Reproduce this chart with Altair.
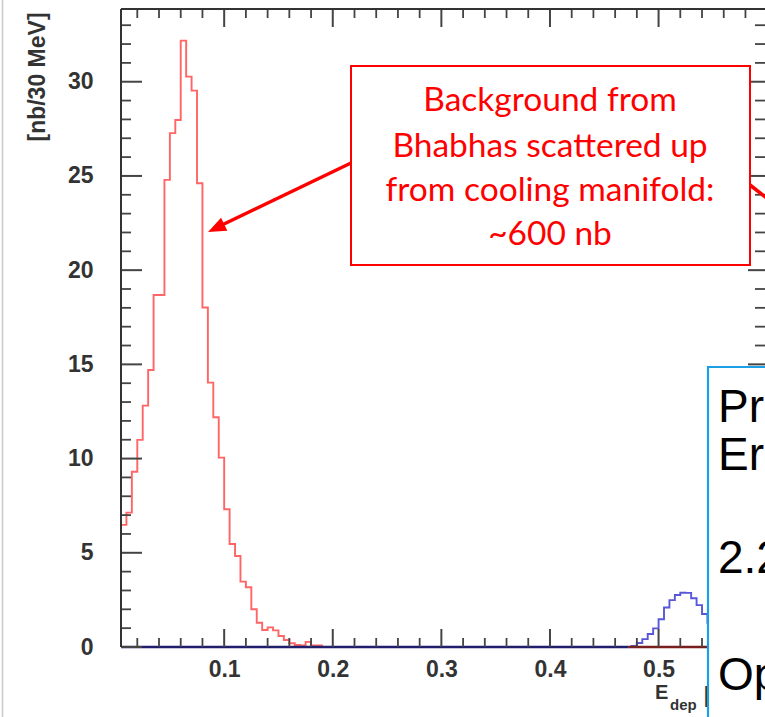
import altair as alt
import pandas as pd

# ---------------- data ----------------
BIN_START = 0.005          # GeV, first bin edge (left frame)
BIN_WIDTH = 0.005          # GeV

red_counts = [6.48, 7.13, 9.30, 10.99, 12.81, 14.70, 18.68, 18.68, 24.79, 27.27,
              27.97, 32.18, 30.27, 29.53, 24.61, 18.02, 14.03, 12.19, 10.05, 7.31,
              5.47, 4.83, 3.47, 3.17, 2.00, 1.29, 0.90, 1.04, 0.88, 0.58,
              0.37, 0.20, 0.11, 0.08, 0.27, 0.08, 0.08] + [0.0] * 82

blue_counts = [0.0] * 93 + [0.0, 0.05, 0.21, 0.42, 0.69, 0.99, 1.47, 2.10, 2.49, 2.76,
                            2.88, 2.87, 2.59, 2.22, 1.75, 1.29, 0.95, 0.68, 0.45, 0.29,
                            0.18, 0.10, 0.06, 0.03, 0.02, 0.01]

baseline_split = 0.472     # where the blue curve leaves zero

y_major = [0, 5, 10, 15, 20, 25, 30]
y_minor = [1, 2, 3, 4, 6, 7, 8, 9, 11, 12, 13, 14, 16, 17, 18, 19,
           21, 22, 23, 24, 26, 27, 28, 29, 31, 32, 33]
x_major = [0.1, 0.2, 0.3, 0.4, 0.5]
x_minor = [0.02, 0.04, 0.06, 0.08, 0.12, 0.14, 0.16, 0.18, 0.22, 0.24, 0.26, 0.28,
           0.32, 0.34, 0.36, 0.38, 0.42, 0.44, 0.46, 0.48, 0.52, 0.54, 0.56, 0.58]

y_title = "[nb/30 MeV]"
annotation_lines = ["Background from", "Bhabhas scattered up",
                    "from cooling manifold:", "~600 nb"]
side_lines = ["Pr", "Er", "2.2", "Op"]

# ---------------- layout ----------------
W, H = 644, 638
X_DOMAIN = [0.005, 0.598]
Y_DOMAIN = [0, 33.86]
xs = alt.Scale(domain=X_DOMAIN, nice=False, zero=False)
ys = alt.Scale(domain=Y_DOMAIN, nice=False, zero=False)
FONT = "Liberation Sans"
TICK_COLOR = "#444444"

X_AXIS = alt.Axis(values=x_major, format=".1f", ticks=False, tickSize=0, domain=False,
                  grid=False, labelFont=FONT, labelFontSize=23, labelFontWeight="bold",
                  labelColor="#333333", labelPadding=11, title=None)
Y_AXIS = alt.Axis(values=y_major, ticks=False, tickSize=0, domain=False, grid=False,
                  labelFont=FONT, labelFontSize=23, labelFontWeight="bold",
                  labelColor="#333333", labelPadding=28, title=None)


def step_frame(counts):
    xs_ = [BIN_START + BIN_WIDTH * i for i in range(len(counts) + 1)]
    ys_ = list(counts) + [counts[-1]]
    return pd.DataFrame({"x": xs_, "y": ys_})


one = alt.Data(values=[{"a": 1}])

red = alt.Chart(step_frame(red_counts)).mark_line(
    interpolate="step-after", color="#ff4a4a", strokeWidth=1.9, opacity=0.85, clip=True
).encode(x=alt.X("x:Q", scale=xs, axis=X_AXIS), y=alt.Y("y:Q", scale=ys, axis=Y_AXIS))

blue = alt.Chart(step_frame(blue_counts)).mark_line(
    interpolate="step-after", color="#3a3ad0", strokeWidth=1.9, opacity=0.85, clip=True
).encode(x=alt.X("x:Q", scale=xs, axis=X_AXIS), y=alt.Y("y:Q", scale=ys, axis=Y_AXIS))

base_df = pd.DataFrame({"x": [X_DOMAIN[0], baseline_split],
                        "x2": [baseline_split, X_DOMAIN[1]],
                        "c": ["#1f1f6e", "#7a1f1f"]})
baseline = alt.Chart(base_df).mark_rule(strokeWidth=2.4).encode(
    x=alt.X("x:Q", scale=xs, axis=X_AXIS), x2="x2:Q", y=alt.value(H),
    color=alt.Color("c:N", scale=None))

ym = pd.DataFrame({"x": y_major})
yn = pd.DataFrame({"x": y_minor})
xm = pd.DataFrame({"x": x_major})
xn = pd.DataFrame({"x": x_minor})


def hticks(df, x0, x1, w):
    return alt.Chart(df).mark_rule(color=TICK_COLOR, strokeWidth=w).encode(
        y=alt.Y("x:Q", scale=ys, axis=Y_AXIS), x=alt.value(x0), x2=alt.value(x1))


def vticks(df, y0, y1, w):
    return alt.Chart(df).mark_rule(color=TICK_COLOR, strokeWidth=w).encode(
        x=alt.X("x:Q", scale=xs, axis=X_AXIS), y=alt.value(y0), y2=alt.value(y1))


ticks = [
    hticks(ym, 0, 21, 2), hticks(yn, 0, 10, 1.8),
    hticks(ym, W - 17, W, 2), hticks(yn, W - 10, W, 1.8),
    vticks(xm, H - 18, H, 2), vticks(xn, H - 9, H, 1.8),
    vticks(xm, 0, 18, 2), vticks(xn, 0, 9, 1.8),
]

frame_left = alt.Chart(one).mark_rule(color="#333333", strokeWidth=2).encode(
    x=alt.value(0), y=alt.value(0), y2=alt.value(H))
frame_top = alt.Chart(one).mark_rule(color="#333333", strokeWidth=2).encode(
    x=alt.value(0), x2=alt.value(W), y=alt.value(0))
edge_line = alt.Chart(one).mark_rule(color="#c8c8c8", strokeWidth=1.5).encode(
    x=alt.value(-118.5), y=alt.value(-9), y2=alt.value(H + 70))

ytitle = alt.Chart(one).mark_text(
    font=FONT, fontSize=23, fontWeight="bold", color="#333333", angle=270,
    align="center", baseline="middle"
).encode(x=alt.value(-83), y=alt.value(68), text=alt.value(y_title))

xlabel_E = alt.Chart(one).mark_text(font=FONT, fontSize=20, fontWeight="bold", color="#333333",
                                    align="left", baseline="alphabetic").encode(
    x=alt.value(534), y=alt.value(690), text=alt.value("E"))
xlabel_dep = alt.Chart(one).mark_text(font=FONT, fontSize=15, fontWeight="bold", color="#333333",
                                      align="left", baseline="alphabetic").encode(
    x=alt.value(549), y=alt.value(701), text=alt.value("dep"))
xlabel_br = alt.Chart(one).mark_text(font=FONT, fontSize=22, fontWeight="bold", color="#333333",
                                     align="left", baseline="alphabetic").encode(
    x=alt.value(583), y=alt.value(693), text=alt.value("["))

# red annotation box
red_box = alt.Chart(one).mark_rect(fill="white", stroke="#ff0000", strokeWidth=2).encode(
    x=alt.value(230), x2=alt.value(629), y=alt.value(57), y2=alt.value(256))
red_text = [
    alt.Chart(one).mark_text(font="Lato", fontSize=33.5, color="#ff0000", align="center",
                             baseline="alphabetic").encode(
        x=alt.value(429), y=alt.value(yb), text=alt.value(t))
    for t, yb in zip(annotation_lines, [102, 148, 192, 236])
]
arrow_line = alt.Chart(one).mark_rule(color="#ff0000", strokeWidth=3.5).encode(
    x=alt.value(230), y=alt.value(154), x2=alt.value(102), y2=alt.value(215.5))
arrow_head = alt.Chart(one).mark_point(
    shape="M0,0 L0.8,2 L-0.8,2 Z", filled=True, color="#ff0000", opacity=1,
    size=324, angle=244.2, strokeWidth=0
).encode(x=alt.value(87), y=alt.value(223))
arrow2 = alt.Chart(one).mark_rule(color="#ff0000", strokeWidth=3.5).encode(
    x=alt.value(629), y=alt.value(176), x2=alt.value(652), y2=alt.value(194))

# blue side box (cut off by the window)
blue_box = alt.Chart(one).mark_rect(fill="white", stroke="#1c9fe3", strokeWidth=2.2).encode(
    x=alt.value(587), x2=alt.value(720), y=alt.value(358), y2=alt.value(740))
side_text = [
    alt.Chart(one).mark_text(font=FONT, fontSize=46, color="#000000", align="left",
                             baseline="alphabetic").encode(
        x=alt.value(597), y=alt.value(yb), text=alt.value(t))
    for t, yb in zip(side_lines, [413, 461, 564, 681])
]

chart = alt.layer(
    edge_line, red, blue, baseline, *ticks, frame_left, frame_top, ytitle,
    xlabel_E, xlabel_dep, xlabel_br,
    red_box, *red_text, arrow_line, arrow_head, arrow2,
    blue_box, *side_text
).properties(
    width=W, height=H,
    padding={"left": 121, "top": 9, "right": 0, "bottom": 70},
    autosize=alt.AutoSizeParams(type="none"),
    background="white",
).configure_view(stroke="transparent")

chart.save("out.html", embed_options={"renderer": "svg", "actions": False})
